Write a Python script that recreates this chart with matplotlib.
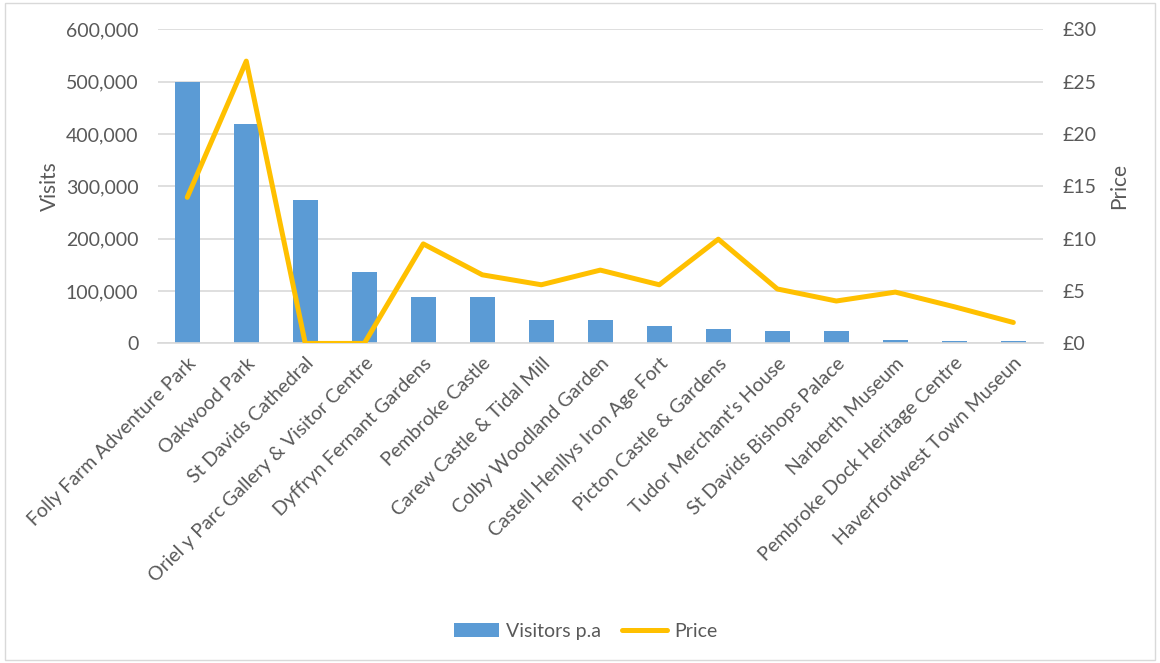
import matplotlib
matplotlib.use("Agg")
import matplotlib.pyplot as plt
from matplotlib.ticker import FuncFormatter, MultipleLocator
from matplotlib.patches import Rectangle

plt.rcParams['font.family'] = ['Lato', 'DejaVu Sans']

attractions = [
    "Folly Farm Adventure Park", "Oakwood Park", "St Davids Cathedral",
    "Oriel y Parc Gallery & Visitor Centre", "Dyffryn Fernant Gardens",
    "Pembroke Castle", "Carew Castle & Tidal Mill", "Colby Woodland Garden",
    "Castell Henllys Iron Age Fort", "Picton Castle & Gardens",
    "Tudor Merchant's House", "St Davids Bishops Palace", "Narberth Museum",
    "Pembroke Dock Heritage Centre", "Haverfordwest Town Museun",
]
visitors = [500000, 418000, 274000, 136000, 88000, 88000, 44000, 44000,
            33000, 27000, 24000, 24000, 7000, 4000, 4000]
price = [13.95, 26.95, 0, 0, 9.5, 6.55, 5.6, 7.0, 5.6, 9.95, 5.2, 4.05,
         4.9, 3.5, 2.0]

text_col = '#595959'
grid_col = '#D9D9D9'

fig = plt.figure(figsize=(11.6, 6.63), dpi=100)
fig.patches.append(Rectangle((0.004, 0.004), 0.992, 0.992, transform=fig.transFigure,
                             fill=False, edgecolor='#D9D9D9', linewidth=1))
ax = fig.add_axes([0.136, 0.482, 0.763, 0.474])
ax2 = ax.twinx()

x = list(range(len(attractions)))
bars = ax.bar(x, visitors, width=0.42, color='#5B9BD5', label='Visitors p.a', zorder=2)
line, = ax2.plot(x, price, color='#FFC000', linewidth=3.6, solid_capstyle='round',
                 solid_joinstyle='round', label='Price', zorder=3)

ax.set_xlim(-0.5, len(attractions) - 0.5)
ax.set_ylim(0, 600000)
ax2.set_ylim(0, 30)
ax.yaxis.set_major_locator(MultipleLocator(100000))
ax2.yaxis.set_major_locator(MultipleLocator(5))
ax.yaxis.set_major_formatter(FuncFormatter(lambda v, p: f"{int(v):,}"))
ax2.yaxis.set_major_formatter(FuncFormatter(lambda v, p: f"£{int(v)}"))

ax.grid(axis='y', color=grid_col, linewidth=1.2, zorder=0)
ax.set_axisbelow(True)
for a in (ax, ax2):
    for s in a.spines.values():
        s.set_visible(False)
    a.tick_params(length=0, colors=text_col, labelsize=14)
ax.spines['bottom'].set_visible(True)
ax.spines['bottom'].set_color(grid_col)
ax.spines['bottom'].set_linewidth(1.2)
ax.tick_params(axis='y', pad=14)
ax2.tick_params(axis='y', pad=14)

ax.set_xticks(x)
ax.set_xticklabels(attractions, rotation=45, ha='right', rotation_mode='anchor',
                   fontsize=14, color=text_col)
ax.tick_params(axis='x', pad=8)

ax.set_ylabel('Visits', fontsize=15, color=text_col, labelpad=4)
ax2.set_ylabel('Price', fontsize=15, color=text_col, labelpad=9, rotation=90)

fig.legend([bars, line], ['Visitors p.a', 'Price'], loc='center', ncol=2,
           bbox_to_anchor=(0.505, 0.048), frameon=False, fontsize=14,
           labelcolor=text_col, handlelength=2.3, handletextpad=0.35,
           columnspacing=1.1)

fig.savefig('out.png', dpi=100)
